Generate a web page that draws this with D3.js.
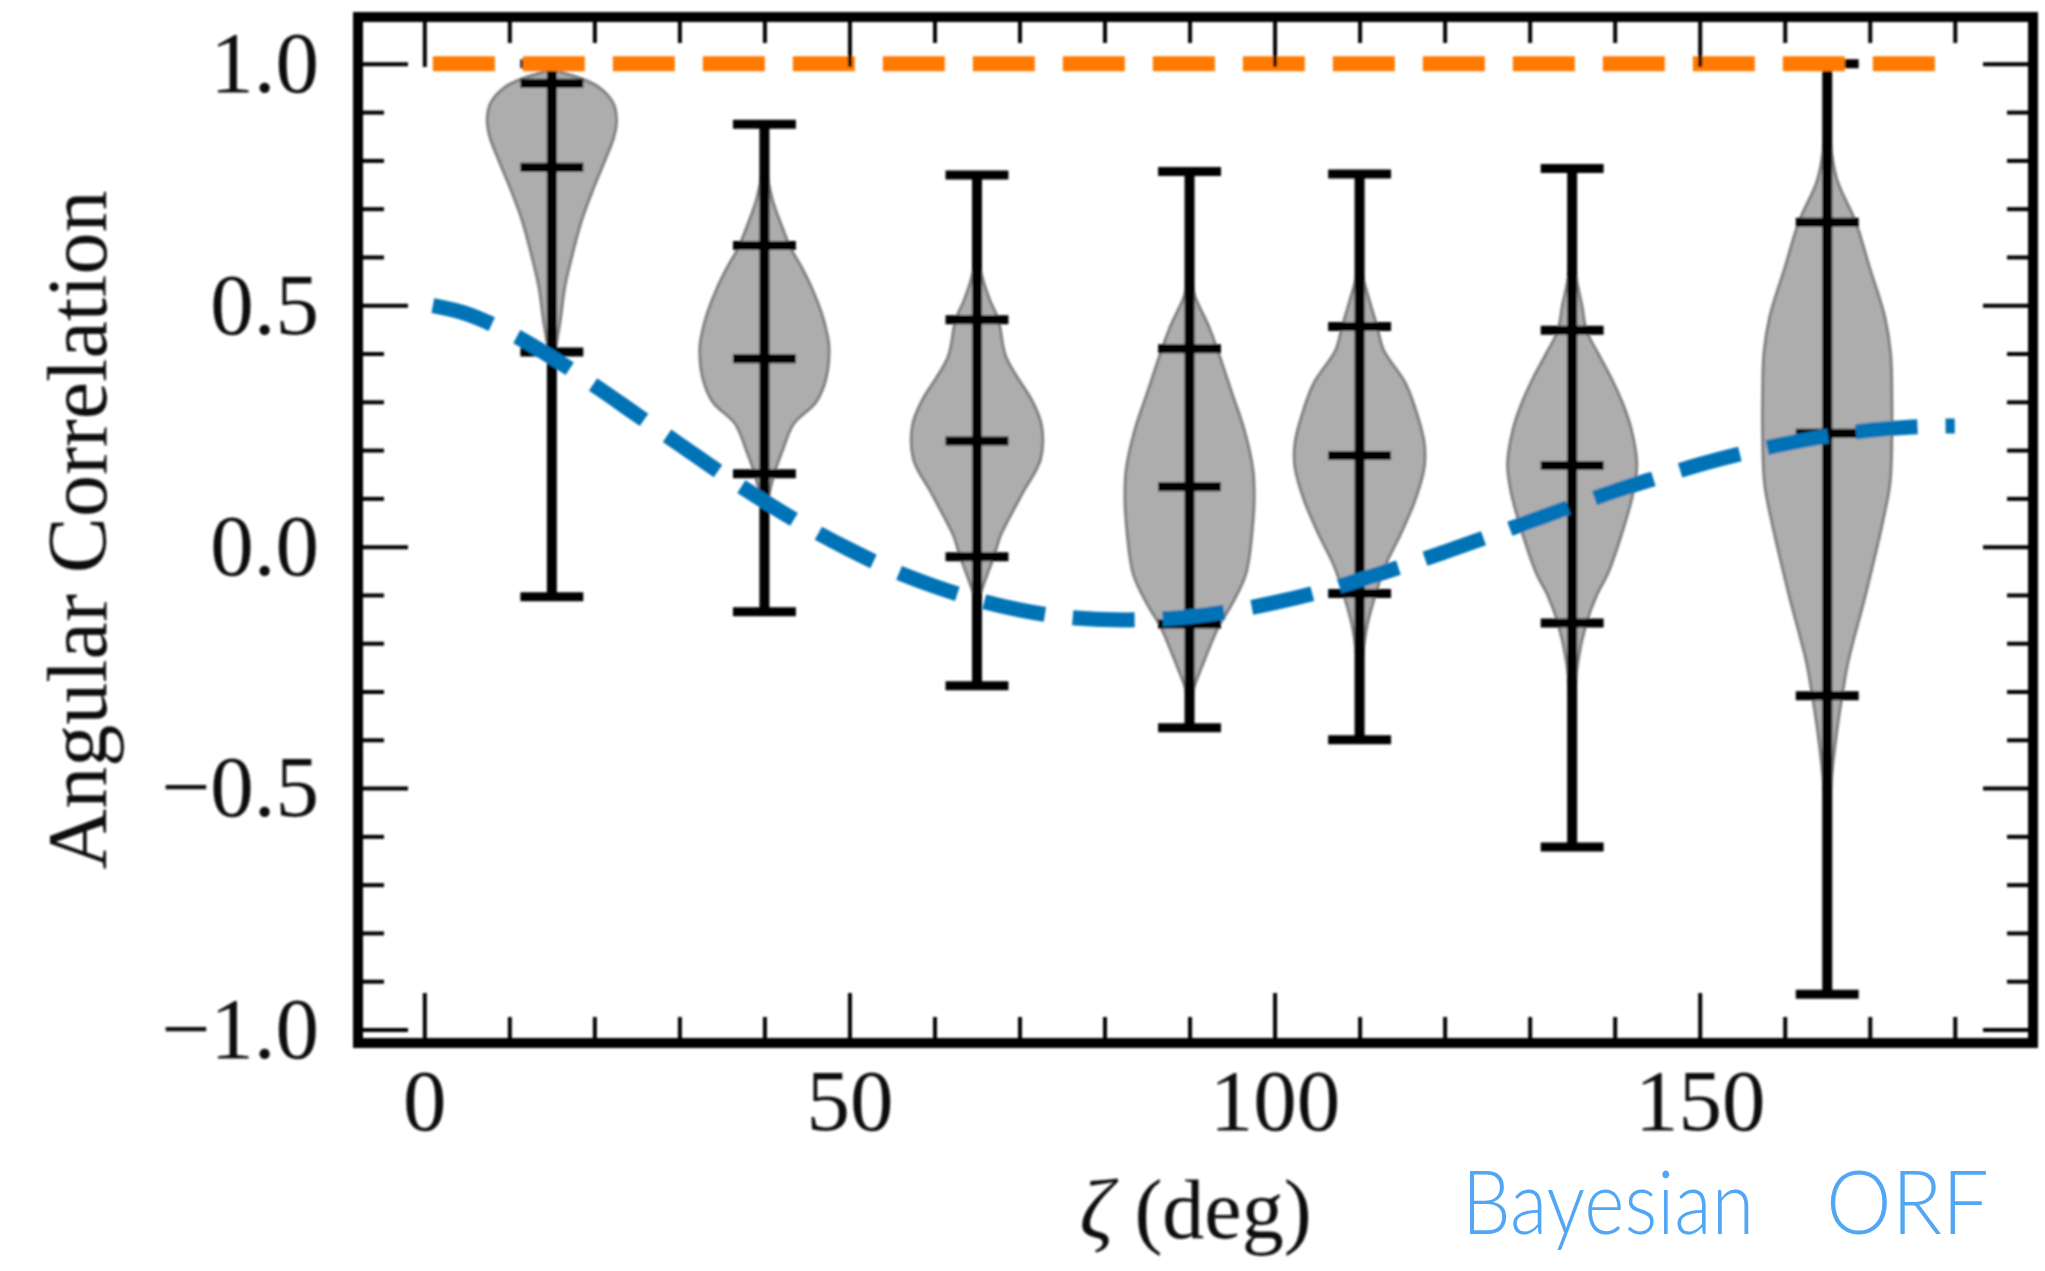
<!DOCTYPE html>
<html>
<head>
<meta charset="utf-8">
<script src="https://cdn.jsdelivr.net/npm/d3@7"></script>
<style>
  html, body { margin: 0; padding: 0; background: #fff; }
  svg { display: block; }
</style>
</head>
<body>
<svg id="chart" width="2045" height="1271"></svg>
<script>
// ---- data -------------------------------------------------------------
// angular-separation bin centres (deg)
const binCentres = [15, 40, 65, 90, 110, 135, 165];
// posterior summaries per bin
const binMax    = [1.00, 0.875, 0.77, 0.777, 0.772, 0.783, 1.00];
const binQ95    = [0.96, 0.624, 0.47, 0.41, 0.456, 0.448, 0.672];
const binMedian = [0.786, 0.389, 0.219, 0.124, 0.189, 0.168, 0.235];
const binQ05    = [0.403, 0.151, -0.021, -0.16, -0.097, -0.158, -0.309];
const binMin    = [-0.104, -0.135, -0.288, -0.375, -0.40, -0.622, -0.927];

// violin outlines: [correlation, relative half-width]
const profile15 = [[1.0,0],[0.985,0.1],[0.973,0.38],[0.952,0.72],[0.918,0.95],[0.883,1.0],[0.849,0.96],[0.80,0.82],[0.745,0.65],[0.676,0.46],[0.607,0.32],[0.538,0.2],[0.469,0.13],[0.42,0.07],[0.38,0.03],[0.30,0.01],[0.10,0.003],[-0.104,0]];
const profile40 = [[0.875,0],[0.78,0.03],[0.72,0.12],[0.67,0.25],[0.62,0.4],[0.577,0.58],[0.53,0.75],[0.485,0.88],[0.44,0.97],[0.411,1.0],[0.347,0.95],[0.30,0.8],[0.254,0.45],[0.20,0.28],[0.151,0.15],[0.10,0.06],[0.05,0.02],[-0.135,0]];
const profile65 = [[0.77,0],[0.60,0.02],[0.558,0.08],[0.51,0.2],[0.47,0.33],[0.392,0.45],[0.30,0.86],[0.25,1.0],[0.18,0.98],[0.115,0.72],[0.06,0.5],[0.022,0.36],[-0.021,0.26],[-0.06,0.15],[-0.10,0.05],[-0.14,0.01],[-0.288,0]];
const profile90 = [[0.777,0],[0.56,0.02],[0.52,0.08],[0.455,0.3],[0.40,0.45],[0.32,0.65],[0.24,0.85],[0.16,0.98],[0.10,1.0],[0.05,0.98],[-0.057,0.87],[-0.12,0.65],[-0.165,0.45],[-0.245,0.2],[-0.30,0.05],[-0.34,0.01],[-0.375,0]];
const profile110 = [[0.772,0],[0.60,0.01],[0.559,0.05],[0.51,0.15],[0.456,0.27],[0.407,0.37],[0.338,0.71],[0.269,0.9],[0.214,1.0],[0.165,1.0],[0.097,0.86],[0.028,0.64],[-0.041,0.39],[-0.097,0.25],[-0.16,0.12],[-0.22,0.05],[-0.28,0.01],[-0.40,0]];
const profile135 = [[0.783,0],[0.60,0.02],[0.55,0.07],[0.50,0.15],[0.448,0.22],[0.40,0.4],[0.35,0.6],[0.29,0.8],[0.24,0.92],[0.17,1.0],[0.11,0.94],[0.05,0.82],[-0.056,0.55],[-0.10,0.38],[-0.158,0.22],[-0.245,0.08],[-0.35,0.02],[-0.45,0.005],[-0.622,0]];
const profile165 = [[1.0,0],[0.90,0.01],[0.842,0.04],[0.76,0.15],[0.672,0.44],[0.58,0.65],[0.476,0.89],[0.40,0.98],[0.30,1.0],[0.235,1.0],[0.131,0.97],[0.053,0.86],[-0.095,0.6],[-0.24,0.32],[-0.309,0.23],[-0.39,0.14],[-0.50,0.05],[-0.60,0.01],[-0.927,0]];
const violinProfiles = [profile15, profile40, profile65, profile90, profile110, profile135, profile165];

// Hellings-Downs reference curve
const hdZeta  = [1, 5, 10, 15, 20, 25, 30, 35, 40, 45, 50, 55, 60, 65, 70, 75, 80, 85, 90, 95, 100, 105, 110, 115, 120, 125, 130, 135, 140, 145, 150, 155, 160, 165, 170, 175, 180];
const hdValue = [0.499, 0.482, 0.443, 0.392, 0.334, 0.273, 0.212, 0.151, 0.094, 0.041, -0.006, -0.048, -0.082, -0.110, -0.131, -0.145, -0.151, -0.151, -0.145, -0.133, -0.116, -0.095, -0.069, -0.041, -0.011, 0.020, 0.052, 0.084, 0.115, 0.143, 0.170, 0.193, 0.213, 0.229, 0.241, 0.248, 0.250];

// monopole reference line
const monoZeta  = [1, 180];
const monoValue = [1.0, 1.0];

// axis ticks
const xMajorTicks = [0, 50, 100, 150];
const xMinorTicks = [10, 20, 30, 40, 60, 70, 80, 90, 110, 120, 130, 140, 160, 170, 180];
const yMajorTicks = [-1.0, -0.5, 0.0, 0.5, 1.0];
const yMinorTicks = [-0.9, -0.8, -0.7, -0.6, -0.4, -0.3, -0.2, -0.1, 0.1, 0.2, 0.3, 0.4, 0.6, 0.7, 0.8, 0.9];

// ---- layout ------------------------------------------------------------
const plotLeft = 358, plotRight = 2033, plotTop = 17, plotBottom = 1043;
const violinHalfWidth = 7.6;   // deg
const barHalfWidth = 3.7;      // deg
const serif = "'Liberation Serif', 'Times New Roman', serif";

const svg = d3.select("#chart");
const defs = svg.append("defs");
defs.append("filter").attr("id", "soft")
  .attr("x", "-2%").attr("y", "-2%").attr("width", "104%").attr("height", "104%")
  .append("feGaussianBlur").attr("stdDeviation", 0.9);

const x = d3.scaleLinear().domain([-7.8, 189.2]).range([plotLeft, plotRight]);
const y = d3.scaleLinear().domain([-1.028, 1.097]).range([plotBottom, plotTop]);

const chart = svg.append("g").attr("filter", "url(#soft)");

// violins
binCentres.forEach((pos, i) => {
  const area = d3.area()
    .curve(d3.curveCatmullRom)
    .y(d => y(d[0]))
    .x0(d => x(pos - d[1] * violinHalfWidth))
    .x1(d => x(pos + d[1] * violinHalfWidth));
  chart.append("path")
    .datum(violinProfiles[i])
    .attr("d", area)
    .attr("fill", "#adadad")
    .attr("stroke", "#808080")
    .attr("stroke-width", 3);
});

// range lines and summary bars
const bars = chart.append("g").attr("stroke", "#000");
binCentres.forEach((pos, i) => {
  bars.append("line")
    .attr("x1", x(pos)).attr("x2", x(pos))
    .attr("y1", y(binMin[i])).attr("y2", y(binMax[i]))
    .attr("stroke-width", 10);
  [binMax[i], binQ95[i], binMedian[i], binQ05[i], binMin[i]].forEach(v => {
    bars.append("line")
      .attr("x1", x(pos - barHalfWidth)).attr("x2", x(pos + barHalfWidth))
      .attr("y1", y(v)).attr("y2", y(v))
      .attr("stroke-width", 9);
  });
});

// reference curves
const line = d3.line().curve(d3.curveCatmullRom).x(d => x(d[0])).y(d => y(d[1]));
chart.append("path")
  .datum(d3.zip(hdZeta, hdValue))
  .attr("d", line)
  .attr("fill", "none")
  .attr("stroke", "#0173b7")
  .attr("stroke-width", 15)
  .attr("stroke-dasharray", "62,28");
chart.append("path")
  .datum(d3.zip(monoZeta, monoValue))
  .attr("d", line)
  .attr("fill", "none")
  .attr("stroke", "#ff7a00")
  .attr("stroke-width", 15)
  .attr("stroke-dasharray", "62,28");

// axes (ticks point inward on all four sides)
function styleTicks(g) {
  g.select(".domain").remove();
  g.selectAll(".tick line").attr("stroke", "#000").attr("stroke-width", 4);
  g.selectAll(".tick text")
    .attr("font-family", serif)
    .attr("font-size", 87)
    .attr("fill", "#111");
}

chart.append("g").attr("transform", `translate(0,${plotBottom})`)
  .call(d3.axisBottom(x).tickValues(xMajorTicks).tickSize(-50).tickPadding(25).tickFormat(d3.format("d")))
  .call(styleTicks);
chart.append("g").attr("transform", `translate(0,${plotBottom})`)
  .call(d3.axisBottom(x).tickValues(xMinorTicks).tickSize(-26).tickFormat(""))
  .call(styleTicks);
chart.append("g").attr("transform", `translate(0,${plotTop})`)
  .call(d3.axisTop(x).tickValues(xMajorTicks).tickSize(-50).tickFormat(""))
  .call(styleTicks);
chart.append("g").attr("transform", `translate(0,${plotTop})`)
  .call(d3.axisTop(x).tickValues(xMinorTicks).tickSize(-26).tickFormat(""))
  .call(styleTicks);

chart.append("g").attr("transform", `translate(${plotLeft},0)`)
  .call(d3.axisLeft(y).tickValues(yMajorTicks).tickSize(-50).tickPadding(39).tickFormat(d3.format(".1f")))
  .call(styleTicks);
chart.append("g").attr("transform", `translate(${plotLeft},0)`)
  .call(d3.axisLeft(y).tickValues(yMinorTicks).tickSize(-26).tickFormat(""))
  .call(styleTicks);
chart.append("g").attr("transform", `translate(${plotRight},0)`)
  .call(d3.axisRight(y).tickValues(yMajorTicks).tickSize(-50).tickFormat(""))
  .call(styleTicks);
chart.append("g").attr("transform", `translate(${plotRight},0)`)
  .call(d3.axisRight(y).tickValues(yMinorTicks).tickSize(-26).tickFormat(""))
  .call(styleTicks);

// frame
chart.append("rect")
  .attr("x", plotLeft).attr("y", plotTop)
  .attr("width", plotRight - plotLeft).attr("height", plotBottom - plotTop)
  .attr("fill", "none").attr("stroke", "#000").attr("stroke-width", 10);

// axis titles
chart.append("text")
  .attr("transform", `translate(106,${(plotTop + plotBottom) / 2}) rotate(-90)`)
  .attr("text-anchor", "middle")
  .attr("font-family", serif).attr("font-size", 84).attr("fill", "#111")
  .text("Angular Correlation");

const xt = chart.append("text")
  .attr("x", (plotLeft + plotRight) / 2).attr("y", 1238)
  .attr("text-anchor", "middle")
  .attr("font-family", serif).attr("font-size", 84).attr("fill", "#111");
xt.append("tspan").attr("font-style", "italic").text("ζ");
xt.append("tspan").text(" (deg)");

// caption
const caption = svg.append("g")
  .attr("font-family", "Lato, 'Open Sans', sans-serif")
  .attr("font-weight", 300)
  .attr("font-size", 88)
  .attr("fill", "#52a7f5");
caption.append("text").attr("x", 1462).attr("y", 1234)
  .attr("textLength", 292).attr("lengthAdjust", "spacingAndGlyphs").text("Bayesian");
caption.append("text").attr("x", 1826).attr("y", 1234)
  .attr("textLength", 163).attr("lengthAdjust", "spacingAndGlyphs").text("ORF");
</script>
</body>
</html>
